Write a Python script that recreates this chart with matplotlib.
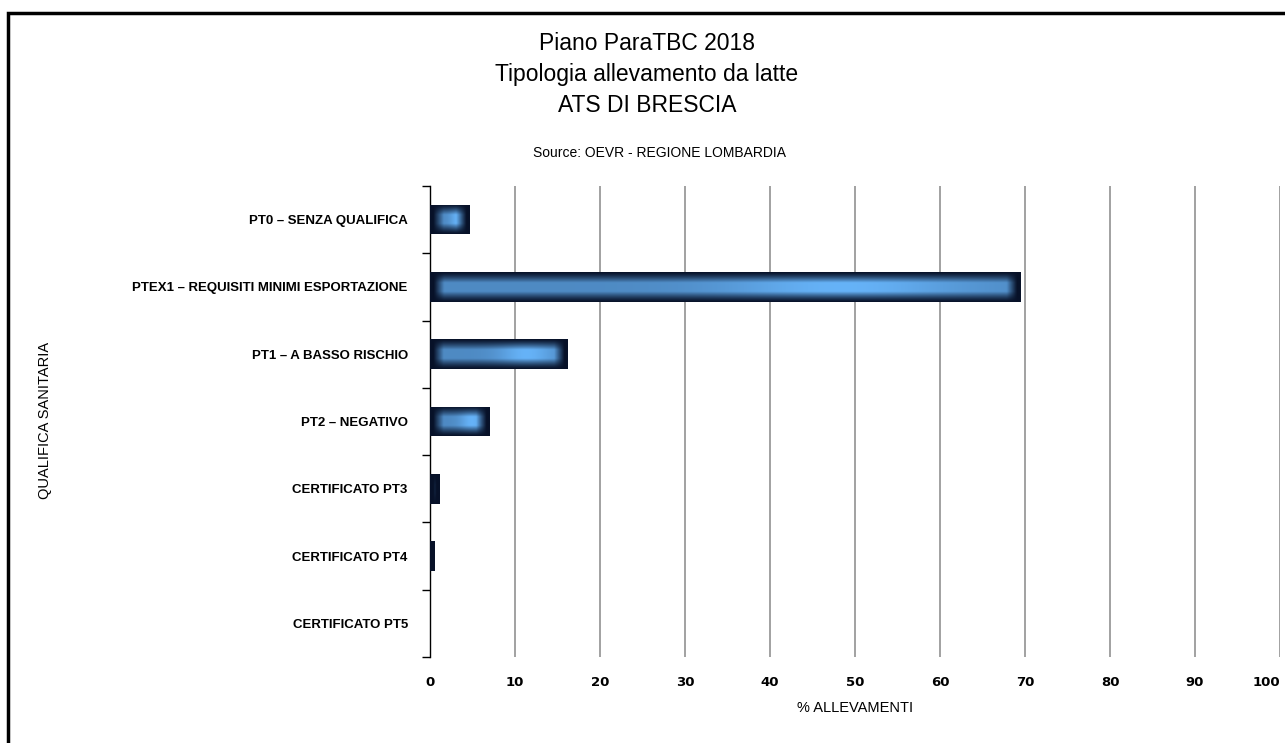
import numpy as np
import matplotlib
matplotlib.use("Agg")
from matplotlib import pyplot as plt
from matplotlib.patches import Rectangle

# data
categories = ["PT0 \u2013 SENZA QUALIFICA",
              "PTEX1 \u2013 REQUISITI MINIMI ESPORTAZIONE",
              "PT1 \u2013 A BASSO RISCHIO",
              "PT2 \u2013 NEGATIVO",
              "CERTIFICATO PT3",
              "CERTIFICATO PT4",
              "CERTIFICATO PT5"]
percent = [4.6, 69.5, 16.2, 7.0, 1.1, 0.5, 0.0]
xticks = [0, 10, 20, 30, 40, 50, 60, 70, 80, 90, 100]

title_lines = ["Piano ParaTBC 2018", "Tipologia allevamento da latte", "ATS DI BRESCIA"]
subtitle = "Source: OEVR - REGIONE LOMBARDIA"

plt.rcParams['font.family'] = ['Liberation Sans', 'DejaVu Sans']

fig = plt.figure(figsize=(12.85, 7.43), dpi=100)
ax = fig.add_axes([430/1285, 1-657/743, 850/1285, 471/743])

dark = np.array([0.03, 0.07, 0.16])
light = np.array([0.40, 0.70, 0.97])

bar_h = 0.44
ypos = np.arange(len(categories))
for i, v in enumerate(percent):
    if v <= 0:
        continue
    y0 = ypos[i] - bar_h/2
    # gradient fill: thin dark rim, broad light blue core
    nx, ny = 400, 60
    u = np.linspace(0, 1, nx)
    w = np.linspace(0, 1, ny)
    U, W = np.meshgrid(u, w)
    d = np.minimum(U, 1-U) * v          # distance to bar end, in % units
    gx = np.clip((d - 0.4) / 1.2, 0, 1)
    gy = np.clip((0.5 - np.abs(W-0.5)) / 0.35, 0, 1) ** 1.3
    glow = 0.75 + 0.25*np.exp(-((U-0.7)/0.2)**2)
    k = np.clip(gx * gy * glow, 0, 1)[..., None]
    img = dark + (light - dark) * k
    rect = Rectangle((0, y0), v, bar_h, facecolor=dark, edgecolor='none', zorder=3)
    ax.add_patch(rect)
    im = ax.imshow(img, extent=[0, v, y0 + bar_h, y0], aspect='auto',
                   interpolation='bilinear', zorder=4)
    im.set_clip_path(rect)

ax.set_xlim(0, 100)
ax.set_ylim(len(categories) - 0.5, -0.5)

ax.set_xticks(xticks)
labels = ax.set_xticklabels([str(t) for t in xticks], fontsize=9.5, fontweight='bold',
                            family=['DejaVu Sans'])
labels[-1].set_horizontalalignment('right')
ax.tick_params(axis='x', length=0, pad=14)
ax.grid(axis='x', color='#888888', linewidth=1.1)
ax.set_axisbelow(True)

ax.set_yticks(ypos)
ax.set_yticklabels(categories, fontsize=9.5, fontweight='bold')
ax.tick_params(axis='y', length=0, pad=16)
ax.set_yticks(np.arange(len(categories) + 1) - 0.5, minor=True)
ax.tick_params(axis='y', which='minor', length=6, width=1, color='black')

for s in ['top', 'right', 'bottom']:
    ax.spines[s].set_visible(False)
ax.spines['left'].set_color('black')
ax.spines['left'].set_linewidth(1)

ax.set_xlabel("% ALLEVAMENTI", fontsize=10.5, labelpad=8)
fig.text(45/1285, 1-420/743, "QUALIFICA SANITARIA", rotation=90, fontsize=10.5,
         ha='center', va='center')

for j, line in enumerate(title_lines):
    fig.text(647/1285, 1-(44 + 31*j)/743, line, fontsize=16.5, ha='center', va='center')
fig.text(660/1285, 1-153/743, subtitle, fontsize=10, ha='center', va='center')

# outer frame, open past the right and bottom edges
fig.patches.append(Rectangle((8/1285, -0.05), 1.2, 1-13/743 + 0.05,
                             transform=fig.transFigure, fill=False,
                             edgecolor='black', linewidth=2.5))

fig.savefig("out.png", dpi=100)
